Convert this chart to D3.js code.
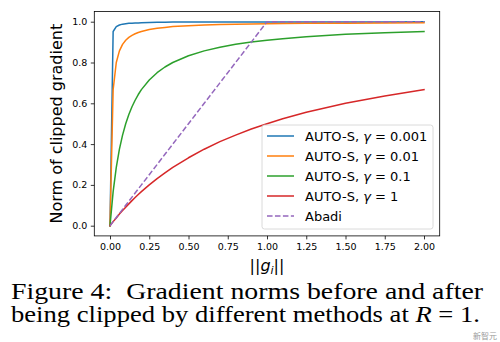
<!DOCTYPE html>
<html><head><meta charset="utf-8">
<script src="https://cdn.jsdelivr.net/npm/d3@7"></script>
<style>body{margin:0;background:#fff}svg{display:block}</style>
</head><body>
<svg id="c" width="500" height="342"></svg>
<script>
// ---- data ----
const gradNorm = [0, 0.02, 0.04, 0.06, 0.08, 0.10, 0.12, 0.14, 0.16, 0.18, 0.20, 0.25, 0.30, 0.35, 0.40, 0.50, 0.60, 0.70, 0.80, 0.90, 1.00, 1.10, 1.25, 1.50, 1.75, 2.00];
const autoS0001 = [0, 0.952, 0.976, 0.984, 0.988, 0.990, 0.992, 0.993, 0.994, 0.994, 0.995, 0.996, 0.997, 0.997, 0.998, 0.998, 0.998, 0.999, 0.999, 0.999, 0.999, 0.999, 0.999, 0.999, 0.999, 1.000];
const autoS001  = [0, 0.667, 0.800, 0.857, 0.889, 0.909, 0.923, 0.933, 0.941, 0.947, 0.952, 0.962, 0.968, 0.972, 0.976, 0.980, 0.984, 0.986, 0.988, 0.989, 0.990, 0.991, 0.992, 0.993, 0.994, 0.995];
const autoS01   = [0, 0.167, 0.286, 0.375, 0.444, 0.500, 0.545, 0.583, 0.615, 0.643, 0.667, 0.714, 0.750, 0.778, 0.800, 0.833, 0.857, 0.875, 0.889, 0.900, 0.909, 0.917, 0.926, 0.938, 0.946, 0.952];
const autoS1    = [0, 0.020, 0.038, 0.057, 0.074, 0.091, 0.107, 0.123, 0.138, 0.153, 0.167, 0.200, 0.231, 0.259, 0.286, 0.333, 0.375, 0.412, 0.444, 0.474, 0.500, 0.524, 0.556, 0.600, 0.636, 0.667];
const abadi     = [0, 0.02, 0.04, 0.06, 0.08, 0.10, 0.12, 0.14, 0.16, 0.18, 0.20, 0.25, 0.30, 0.35, 0.40, 0.50, 0.60, 0.70, 0.80, 0.90, 1.00, 1.00, 1.00, 1.00, 1.00, 1.00];
const seriesNames = ["AUTO-S, |γ| = 0.001", "AUTO-S, |γ| = 0.01", "AUTO-S, |γ| = 0.1", "AUTO-S, |γ| = 1", "Abadi"];
const xTicks = [0, 0.25, 0.5, 0.75, 1.0, 1.25, 1.5, 1.75, 2.0];
const yTicks = [0, 0.2, 0.4, 0.6, 0.8, 1.0];
const yLabel = "Norm of clipped gradient";
const captionLines = ["Figure 4:\u00a0 Gradient norms before and after", "being clipped by different methods at "];

const colors = ["#1f77b4", "#ff7f0e", "#2ca02c", "#d62728", "#9467bd"];
const allSeries = [autoS0001, autoS001, autoS01, autoS1, abadi];

const svg = d3.select("#c");
const L = 94.3, R = 439.7, T = 11.5, B = 235.9;
const x = d3.scaleLinear().domain([-0.1, 2.1]).range([L, R]);
const y = d3.scaleLinear().domain([-0.05, 1.05]).range([B, T]);

const plot = svg.append("g");
const line = d3.line().x((d, i) => x(gradNorm[i])).y(d => y(d));
allSeries.forEach((s, k) => {
  plot.append("path").datum(s).attr("d", line)
    .attr("fill", "none").attr("stroke", colors[k]).attr("stroke-width", 1.5)
    .attr("stroke-linejoin", "round").attr("stroke-linecap", k === 4 ? "butt" : "square")
    .attr("stroke-dasharray", k === 4 ? "5.55,2.4" : null);
});

// axes
const font = "'DejaVu Sans', sans-serif";
const xa = svg.append("g").attr("transform", `translate(0,${B})`)
  .call(d3.axisBottom(x).tickValues(xTicks).tickFormat(d3.format(".2f")).tickSizeOuter(0).tickSize(3.5).tickPadding(3.5));
const ya = svg.append("g").attr("transform", `translate(${L},0)`)
  .call(d3.axisLeft(y).tickValues(yTicks).tickFormat(d3.format(".1f")).tickSizeOuter(0).tickSize(3.5).tickPadding(3.5));
[xa, ya].forEach(a => {
  a.select(".domain").remove();
  a.selectAll("line").attr("stroke", "#000").attr("stroke-width", 0.8);
  a.selectAll("text").attr("font-family", font).attr("font-size", 9.5).attr("fill", "#000");
});
svg.append("rect").attr("x", L).attr("y", T).attr("width", R - L).attr("height", B - T)
  .attr("fill", "none").attr("stroke", "#000").attr("stroke-width", 0.8);

// axis labels
svg.append("text").attr("transform", `translate(62,${(T + B) / 2}) rotate(-90)`)
  .attr("text-anchor", "middle").attr("font-family", font).attr("font-size", 16).text(yLabel);
const xl = svg.append("text").attr("x", (L + R) / 2).attr("y", 271).attr("text-anchor", "middle")
  .attr("font-family", font).attr("font-size", 16);
xl.append("tspan").text("||");
xl.append("tspan").attr("font-style", "italic").text("g");
xl.append("tspan").attr("font-style", "italic").attr("font-size", 11).attr("dy", 3).text("i");
xl.append("tspan").attr("dy", -3).text("||");

// legend
const lg = svg.append("g");
lg.append("rect").attr("x", 262).attr("y", 125).attr("width", 171).attr("height", 104)
  .attr("rx", 2.5).attr("fill", "#fff").attr("fill-opacity", 0.8).attr("stroke", "#d0d0d0").attr("stroke-width", 0.8);
seriesNames.forEach((n, k) => {
  const cy = 136 + k * 20;
  lg.append("line").attr("x1", 267).attr("x2", 294).attr("y1", cy).attr("y2", cy)
    .attr("stroke", colors[k]).attr("stroke-width", 1.5)
    .attr("stroke-dasharray", k === 4 ? "5.55,2.4" : null);
  const t = lg.append("text").attr("x", 305).attr("y", cy + 4.6).attr("font-family", font).attr("font-size", 13);
  const parts = n.split("|");
  parts.forEach((p, j) => {
    const ts = t.append("tspan").text(p);
    if (j === 1) ts.attr("font-style", "italic");
  });
});

// caption (glyphs stretched to the reference's line widths)
const serif = "'Liberation Serif', 'Times New Roman', serif";
const c1 = svg.append("text").attr("x", 11).attr("y", 299).attr("font-family", serif).attr("font-size", 22.5)
  .attr("textLength", 472).attr("lengthAdjust", "spacingAndGlyphs").text(captionLines[0]);
const c2 = svg.append("text").attr("x", 11).attr("y", 322).attr("font-family", serif).attr("font-size", 22.5)
  .attr("textLength", 469).attr("lengthAdjust", "spacingAndGlyphs");
c2.append("tspan").text(captionLines[1]);
c2.append("tspan").attr("font-style", "italic").text("R");
c2.append("tspan").text(" = 1.");
// watermark (kept small, clear of the caption)
svg.append("text").attr("x", 497).attr("y", 339).attr("text-anchor", "end")
  .attr("font-family", "'Noto Sans CJK SC', sans-serif")
  .attr("font-size", 8).attr("fill", "#9a9a9a").text("新智元");
</script>
</body></html>
